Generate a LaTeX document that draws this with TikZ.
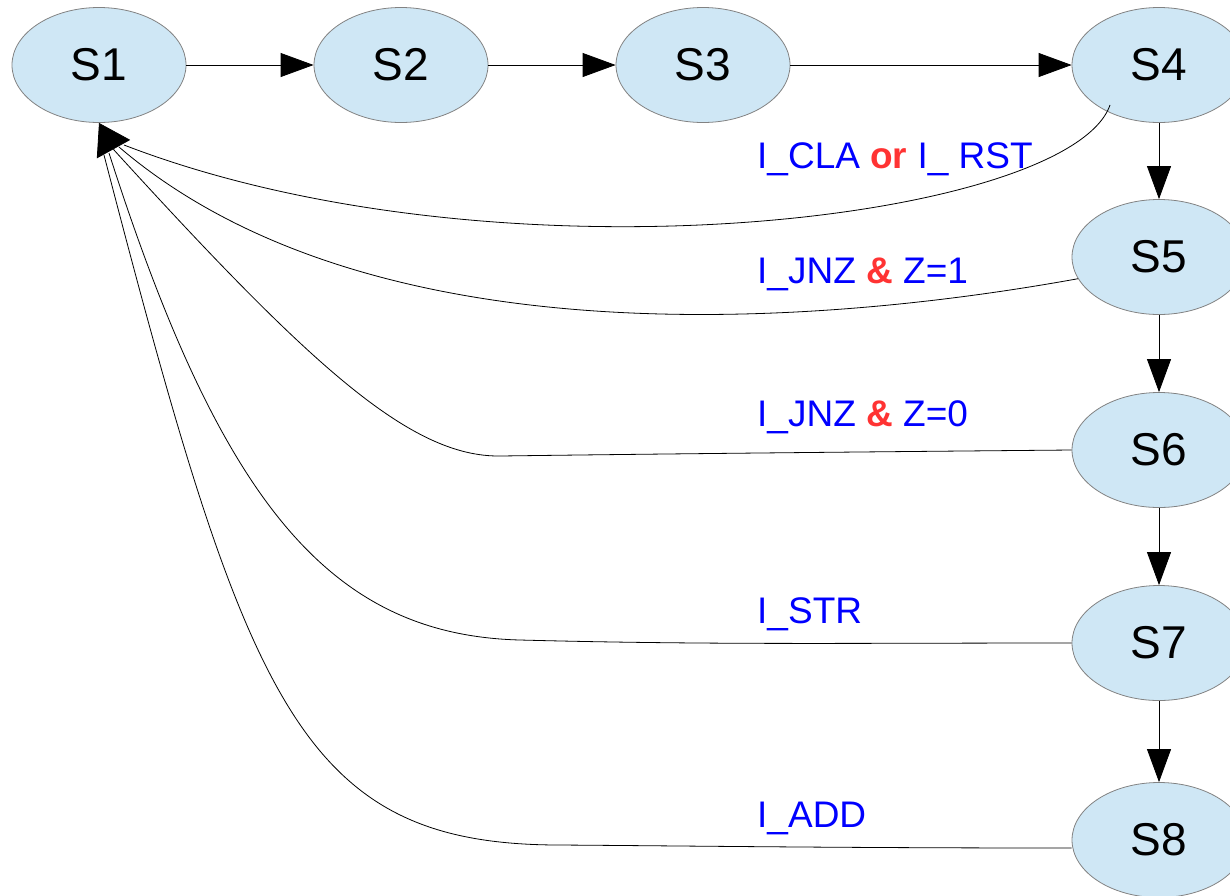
\documentclass[tikz,border=0pt]{standalone}
\usepackage{fontspec}
\setmainfont{Liberation Sans}
\usetikzlibrary{shapes.geometric,arrows.meta}

\definecolor{statefill}{RGB}{207,231,245}
\definecolor{stateline}{RGB}{130,130,130}
\definecolor{condblue}{RGB}{0,0,255}
\definecolor{condred}{RGB}{255,51,51}

\tikzset{
  state/.style={ellipse, draw=stateline, fill=statefill, line width=0.8pt,
    minimum width=174pt, minimum height=115pt, inner sep=0pt,
    font=\fontsize{46}{50}\selectfont},
  trans/.style={-{Triangle[length=33pt,width=24pt]}, line width=0.8pt},
  back/.style={line width=0.8pt},
  backhead/.style={-{Triangle[length=30pt,width=38pt]}, line width=0.8pt},
  cond/.style={anchor=base west, inner sep=0pt, text=condblue,
    font=\fontsize{37}{41}\selectfont}
}

\newcommand{\condop}[1]{\textbf{\color{condred}#1}}

\begin{document}
\begin{tikzpicture}[x=1pt,y=-1pt]
\useasboundingbox (0,0) rectangle (1230,895);

\node[state] (S1) at (99,65) {S1};
\node[state] (S2) at (401,65) {S2};
\node[state] (S3) at (703,65) {S3};
\node[state] (S4) at (1159,65) {S4};
\node[state] (S5) at (1159,257) {S5};
\node[state] (S6) at (1159,450) {S6};
\node[state] (S7) at (1159,643) {S7};
\node[state] (S8) at (1159,840) {S8};

\draw[trans] (S1) -- (S2);
\draw[trans] (S2) -- (S3);
\draw[trans] (S3) -- (S4);
\draw[trans] (S4) -- (S5);
\draw[trans] (S5) -- (S6);
\draw[trans] (S6) -- (S7);
\draw[trans] (S7) -- (S8);

% back to S1
\coordinate (s1in) at (114,150);
\coordinate (b4) at (124,145);
\coordinate (b5) at (119,147);
\coordinate (b6) at (114,150);
\coordinate (b7) at (109,153);
\coordinate (b8) at (104,155);

\draw[back] ([shift={(-49,40)}]S4.center) .. controls (1070,220) and (500,290) .. (b4);
\draw[back] (S5.195) .. controls (850,320) and (380,370) .. (b5);
\draw[back] (S6.west) .. controls (850,452) and (650,454) .. (500,456)
  .. controls (410,457) and (310,365) .. (b6);
\draw[back] (S7.west) .. controls (850,643) and (710,645) .. (520,640)
  .. controls (330,635) and (221,503) .. (b7);
\draw[back] ([yshift=-8pt]S8.west) .. controls (850,848) and (700,846) .. (560,845)
  .. controls (300,845) and (247,705) .. (b8);
\draw[backhead] (s1in) -- (S1.south);

\node[cond] (c4) at (757,168) {I\_CLA \condop{or} I\_ RST};
\node[cond] (c5) at (757,283) {I\_JNZ \condop{\&} Z=1};
\node[cond] (c6) at (757,426) {I\_JNZ \condop{\&} Z=0};
\node[cond] (c7) at (757,623) {I\_STR};
\node[cond] (c8) at (757,827) {I\_ADD};

\end{tikzpicture}
\end{document}
